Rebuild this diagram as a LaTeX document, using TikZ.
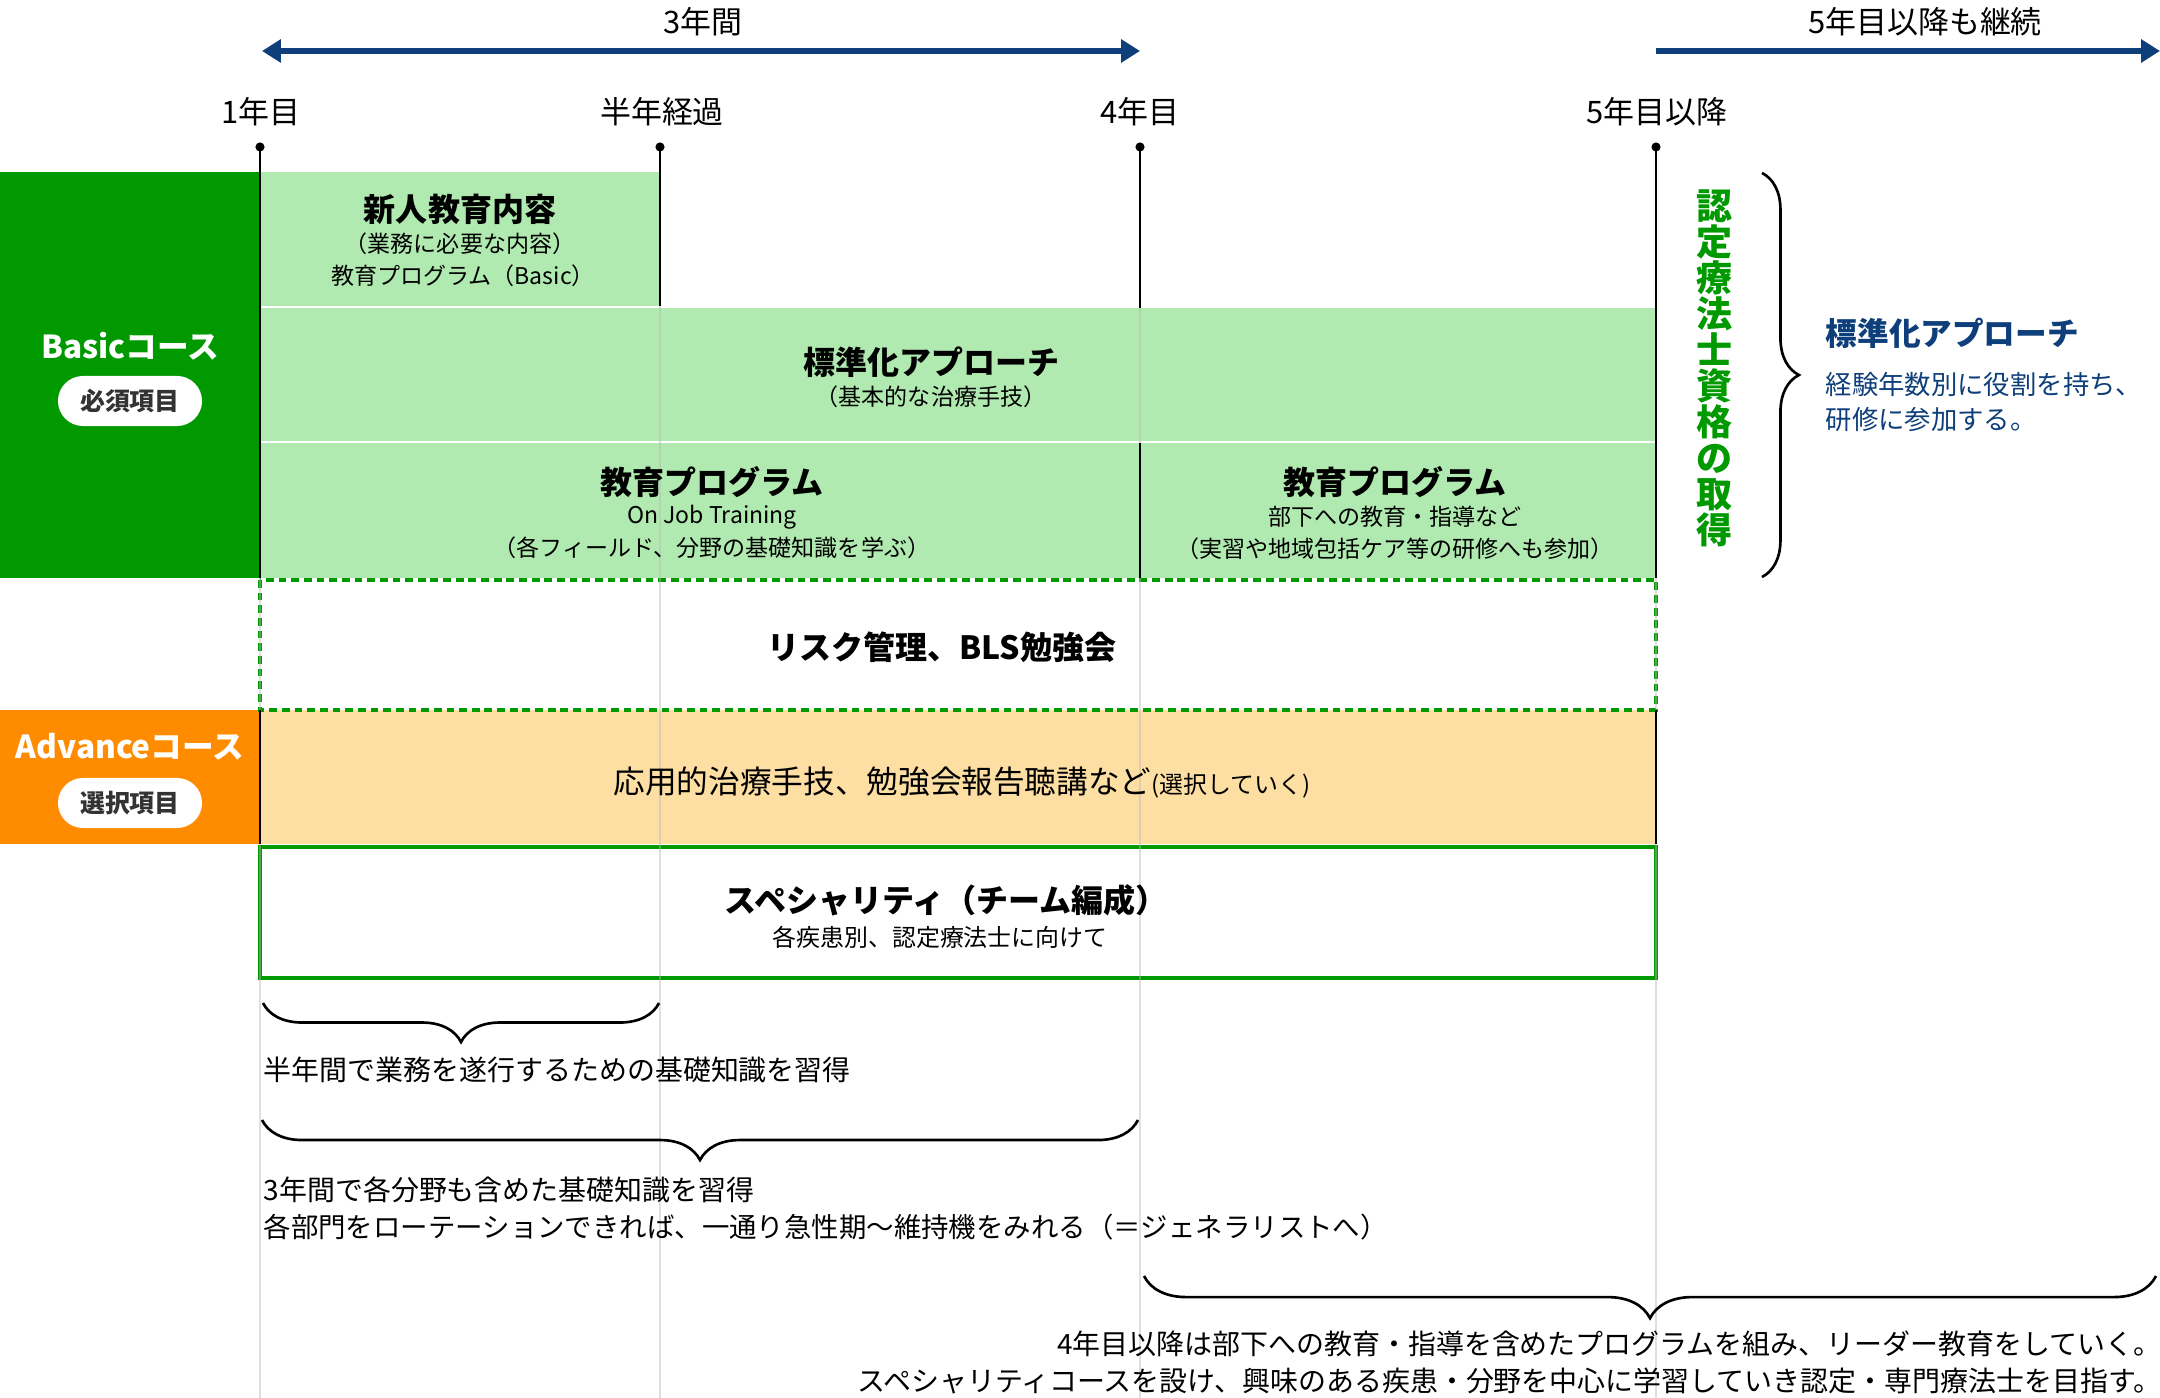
\documentclass[tikz,border=0pt]{standalone}
\usepackage{fontspec}
\setmainfont{Noto Sans CJK JP}
\usetikzlibrary{arrows.meta,decorations.pathreplacing}
\definecolor{dgreen}{HTML}{009900}
\definecolor{lgreen}{HTML}{B0EAB0}
\definecolor{orangec}{HTML}{FF8C00}
\definecolor{lorange}{HTML}{FDDFA3}
\definecolor{navy}{HTML}{0E3F7A}
\definecolor{gridc}{HTML}{B8B8B8}
\definecolor{pilltext}{HTML}{333333}
\newcommand{\myfs}[1]{\fontsize{#1}{#1}\selectfont}
\begin{document}
\begin{tikzpicture}[x=0.01cm,y=-0.01cm,
  lab/.style={inner sep=0pt,font=\myfs{8.8}},
  ttl/.style={inner sep=0pt,font=\bfseries\myfs{9.1}},
  sub/.style={inner sep=0pt,font=\myfs{6.55}},
  mid/.style={inner sep=0pt,font=\myfs{9}},
  course/.style={inner sep=0pt,font=\bfseries\myfs{9},text=white},
  pill/.style={fill=white,rounded corners=0.25cm,minimum width=1.44cm,minimum height=0.5cm,inner sep=0pt,font=\bfseries\myfs{7.1},text=pilltext},
  vert/.style={inner sep=0pt,align=center,font=\bfseries\myfs{10.24},text=dgreen},
  rttl/.style={inner sep=0pt,font=\bfseries\myfs{9},text=navy},
  rsub/.style={inner sep=0pt,font=\myfs{7.5},text=navy},
  bot/.style={inner sep=0pt,font=\myfs{7.95}},
  gridline/.style={draw=gridc,line width=0.43pt,opacity=0.45},
  blackline/.style={draw=black,line width=0.6pt},
  navyarrow/.style={draw=navy,line width=1.45pt},
  bracestyle/.style={draw=black,line width=0.75pt,decorate},
]
\useasboundingbox (0,0) rectangle (2160,1398);

% coloured areas
\fill[dgreen] (0,172) rectangle (260,578);
\fill[orangec] (0,710) rectangle (260,844);
\fill[lgreen] (260,172) rectangle (660,306);
\fill[lgreen] (260,308) rectangle (1656,441);
\fill[lgreen] (260,443) rectangle (1140,578);
\fill[lgreen] (1140,443) rectangle (1656,578);
\fill[lorange] (260,710) rectangle (1656,844);

% frames
\draw[dgreen,line width=1pt,dash pattern=on 2.2pt off 1.4pt] (260,580) rectangle (1656,710);
\draw[dgreen,line width=1.1pt] (260,847) rectangle (1656,978);

% faint grid lines
\foreach \gx in {260,660,1140,1656}{
  \draw[gridline] (\gx,150) -- (\gx,1398);
}

% black timeline lines
\draw[blackline] (260,147) -- (260,578);
\draw[blackline] (260,710) -- (260,844);
\draw[blackline] (660,147) -- (660,306);
\draw[blackline] (1140,147) -- (1140,308);
\draw[blackline] (1140,443) -- (1140,578);
\draw[blackline] (1656,147) -- (1656,578);
\draw[blackline] (1656,710) -- (1656,844);
\foreach \gx in {260,660,1140,1656}{
  \fill (\gx,147) circle[radius=1.3pt];
}

% arrows
\coordinate (a1) at (262,51);
\coordinate (a2) at (1140,51);
\coordinate (a3) at (1656,51);
\coordinate (a4) at (2160,51);
\draw[navyarrow,{Triangle[length=5.4pt,width=6.4pt]}-{Triangle[length=5.4pt,width=6.4pt]}] (a1) -- (a2);
\draw[navyarrow,-{Triangle[length=5.4pt,width=6.4pt]}] (a3) -- (a4);

% top labels
\node[lab] (span3) at (703,22) {3年間};
\node[lab] (cont) at (1925,22) {5年目以降も継続};
\node[lab] (y1) at (261,112) {1年目};
\node[lab] (yh) at (662,112) {半年経過};
\node[lab] (y4) at (1140,112) {4年目};
\node[lab] (y5) at (1657,112) {5年目以降};

% course labels
\node[course] (basic) at (130,346) {Basicコース};
\node[pill] (hissu) at (130,401) {必須項目};
\node[course] (adv) at (130,747) {Advanceコース};
\node[pill] (sentaku) at (130,803) {選択項目};

% box texts
\node[ttl] (n1) at (460,209) {新人教育内容};
\node[sub] (n2) at (460,244) {（業務に必要な内容）};
\node[sub] (n3) at (463,276) {教育プログラム（Basic）};
\node[ttl] (s1) at (931,362) {標準化アプローチ};
\node[sub] (s2) at (931,397) {（基本的な治療手技）};
\node[ttl] (e1) at (712,482) {教育プログラム};
\node[sub] (e2) at (712,517) {On Job Training};
\node[sub] (e3) at (712,548) {（各フィールド、分野の基礎知識を学ぶ）};
\node[ttl] (f1) at (1395,482) {教育プログラム};
\node[sub] (f2) at (1395,517) {部下への教育・指導など};
\node[sub] (f3) at (1395,549) {（実習や地域包括ケア等の研修へも参加）};
\node[ttl] (risk) at (942,647) {リスク管理、BLS勉強会};
\node[mid] (app) at (962,782) {応用的治療手技、勉強会報告聴講など{\myfs{6.8}(選択していく)}};
\node[ttl] (sp1) at (946,900) {スペシャリティ（チーム編成）};
\node[sub,font=\myfs{6.8}] (sp2) at (940,937) {各疾患別、認定療法士に向けて};

% right side
\node[vert] (cert) at (1714,368) {認\\定\\療\\法\\士\\資\\格\\の\\取\\得};
\draw[bracestyle,decoration={brace,amplitude=10.5pt}] (1762,173) -- (1762,577);
\node[rttl,anchor=west] (r1) at (1825,333) {標準化アプローチ};
\node[rsub,anchor=west] (r2) at (1825,384) {経験年数別に役割を持ち、};
\node[rsub,anchor=west] (r3) at (1825,420) {研修に参加する。};

% bottom braces and notes
\draw[bracestyle,decoration={brace,amplitude=11.1pt}] (659,1003) -- (263,1003);
\node[bot,anchor=west] (b1) at (263,1070) {半年間で業務を遂行するための基礎知識を習得};
\draw[bracestyle,decoration={brace,amplitude=11.4pt}] (1138,1120) -- (262,1120);
\node[bot,anchor=west] (b2) at (263,1190) {3年間で各分野も含めた基礎知識を習得};
\node[bot,anchor=west,font=\myfs{7.8}] (b3) at (263,1227) {各部門をローテーションできれば、一通り急性期～維持機をみれる（＝ジェネラリストへ）};
\draw[bracestyle,decoration={brace,amplitude=12pt}] (2156,1276) -- (1144,1276);
\node[bot,anchor=east] (b4) at (2162,1344) {4年目以降は部下への教育・指導を含めたプログラムを組み、リーダー教育をしていく。};
\node[bot,anchor=east] (b5) at (2162,1381) {スペシャリティコースを設け、興味のある疾患・分野を中心に学習していき認定・専門療法士を目指す。};
\end{tikzpicture}
\end{document}
